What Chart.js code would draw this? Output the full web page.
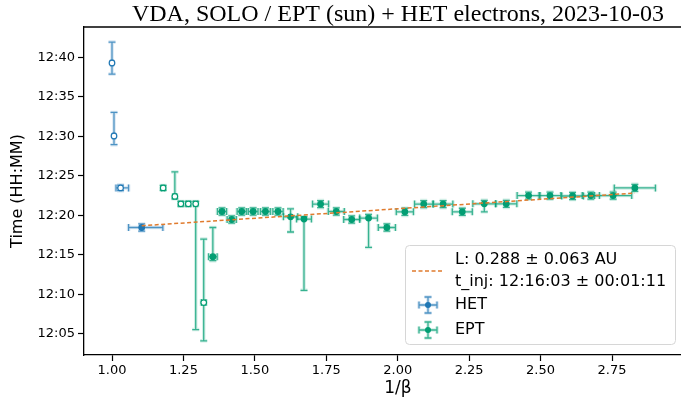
<!DOCTYPE html>
<html>
<head>
<meta charset="utf-8">
<script src="https://cdn.jsdelivr.net/npm/chart.js@4/dist/chart.umd.min.js"></script>
<style>
  html, body { margin: 0; padding: 0; overflow: hidden; background: #fff; }
</style>
</head>
<body>
<canvas id="chart" width="720" height="407"></canvas>
<script>
// y values are minutes after 12:00, x values are 1/beta
const hetX = [1.000, 1.007, 1.030, 1.104];
const hetY = [39.28, 30.05, 23.48, 18.47];
const hetXLo = [0.003, 0.003, 0.016, 0.046];
const hetXHi = [0.003, 0.003, 0.028, 0.074];
const hetYLo = [1.40, 1.10, 0.35, 0.45];
const hetYHi = [2.64, 2.98, 0.35, 0.45];
const hetHollow = [true, true, true, false];

const eptX = [1.179, 1.220, 1.241, 1.267, 1.293, 1.321, 1.353, 1.385, 1.419, 1.454, 1.494,
  1.537, 1.581, 1.625, 1.672, 1.730, 1.785, 1.839, 1.898, 1.962, 2.025, 2.091,
  2.159, 2.226, 2.303, 2.380, 2.458, 2.533, 2.612, 2.676, 2.754, 2.830];
const eptY = [23.48, 22.40, 21.46, 21.46, 21.46, 8.97, 14.77, 20.49, 19.48, 20.49, 20.49,
  20.49, 20.49, 19.82, 19.53, 21.43, 20.49, 19.48, 19.66, 18.47, 20.45, 21.43,
  21.43, 20.45, 21.46, 21.46, 22.50, 22.50, 22.45, 22.50, 22.50, 23.48];
const eptXErr = [0.006, 0.006, 0.007, 0.007, 0.007, 0.008, 0.015, 0.016, 0.016, 0.016, 0.017,
  0.017, 0.018, 0.025, 0.026, 0.028, 0.028, 0.028, 0.031, 0.030, 0.030, 0.032,
  0.034, 0.035, 0.040, 0.037, 0.040, 0.038, 0.038, 0.030, 0.065, 0.072];
const eptYLo = [0.30, 0.30, 0.30, 0.30, 15.90, 4.84, 0.50, 0.45, 0.45, 0.45, 0.45,
  0.45, 0.45, 1.92, 9.01, 0.45, 0.45, 0.45, 3.71, 0.45, 0.45, 0.45,
  0.45, 0.45, 1.01, 0.45, 0.45, 0.45, 0.45, 0.45, 0.45, 0.45];
const eptYHi = [0.30, 3.10, 0.30, 0.30, 0.30, 8.03, 3.70, 0.45, 0.45, 0.45, 0.45,
  0.45, 0.45, 1.01, 0.30, 0.45, 0.45, 0.45, 0.45, 0.45, 0.45, 0.45,
  0.45, 0.45, 0.45, 0.45, 0.45, 0.45, 0.45, 0.45, 0.45, 0.45];
const eptHollowCount = 6;

// fitted line end points
const fitX = [1.104, 2.830];
const fitY = [18.69, 22.83];

const xTicks = [1.00, 1.25, 1.50, 1.75, 2.00, 2.25, 2.50, 2.75];
const yTicks = [5, 10, 15, 20, 25, 30, 35, 40];

const hetColor = '#1f77b4';
const eptColor = '#029e73';
const fitColor = '#e07b2e';
const font = '"DejaVu Sans", sans-serif';

const hetSeries = {
  x: hetX, y: hetY, color: hetColor,
  xLo: hetXLo, xHi: hetXHi, yLo: hetYLo, yHi: hetYHi
};
const eptSeries = {
  x: eptX, y: eptY, color: eptColor,
  xLo: eptXErr, xHi: eptXErr, yLo: eptYLo, yHi: eptYHi
};

function rgba(hex, a) {
  const n = parseInt(hex.slice(1), 16);
  return `rgba(${n >> 16},${(n >> 8) & 255},${n & 255},${a})`;
}

function drawErr(ctx, px, py, x0, x1, y0, y1, color) {
  const cap = 3.5;
  const pass = (w, c) => {
    ctx.strokeStyle = c;
    ctx.lineWidth = w;
    ctx.beginPath();
    ctx.moveTo(x0, py); ctx.lineTo(x1, py);
    ctx.moveTo(x0, py - cap); ctx.lineTo(x0, py + cap);
    ctx.moveTo(x1, py - cap); ctx.lineTo(x1, py + cap);
    ctx.moveTo(px, y0); ctx.lineTo(px, y1);
    ctx.moveTo(px - cap, y0); ctx.lineTo(px + cap, y0);
    ctx.moveTo(px - cap, y1); ctx.lineTo(px + cap, y1);
    ctx.stroke();
  };
  pass(3.5, rgba(color, 0.18));
  pass(1.3, rgba(color, 0.75));
}

const errorBars = {
  id: 'errorBars',
  beforeDatasetsDraw(chart) {
    const { ctx, chartArea, scales: { x, y } } = chart;
    ctx.save();
    ctx.beginPath();
    ctx.rect(chartArea.left, chartArea.top, chartArea.right - chartArea.left, chartArea.bottom - chartArea.top);
    ctx.clip();
    [hetSeries, eptSeries].forEach(s => {
      s.x.forEach((xv, i) => {
        const yv = s.y[i];
        drawErr(ctx,
          x.getPixelForValue(xv), y.getPixelForValue(yv),
          x.getPixelForValue(xv - s.xLo[i]), x.getPixelForValue(xv + s.xHi[i]),
          y.getPixelForValue(yv + s.yHi[i]), y.getPixelForValue(yv - s.yLo[i]),
          s.color);
      });
    });
    ctx.restore();
  },
  afterDraw(chart) {
    const { ctx, chartArea } = chart;
    ctx.save();
    // top spine
    ctx.strokeStyle = '#000';
    ctx.lineWidth = 1.3;
    ctx.beginPath();
    ctx.moveTo(chartArea.left, chartArea.top);
    ctx.lineTo(chartArea.right, chartArea.top);
    ctx.stroke();

    // legend box
    const bx = 405, by = 245, bw = 270, bh = 99;
    ctx.beginPath();
    ctx.roundRect(bx + 0.5, by + 0.5, bw, bh, 4);
    ctx.fillStyle = 'rgba(255,255,255,0.85)';
    ctx.fill();
    ctx.strokeStyle = '#d6d6d6';
    ctx.lineWidth = 1;
    ctx.stroke();

    ctx.strokeStyle = fitColor;
    ctx.lineWidth = 1.4;
    ctx.setLineDash([4, 2.5]);
    ctx.beginPath();
    ctx.moveTo(412, 271);
    ctx.lineTo(443, 271);
    ctx.stroke();
    ctx.setLineDash([]);

    ctx.fillStyle = '#000';
    ctx.font = '16px ' + font;
    ctx.textBaseline = 'middle';
    ctx.textAlign = 'left';
    ctx.fillText('L: 0.288 \u00b1 0.063 AU', 455, 260);
    ctx.fillText('t_inj: 12:16:03 \u00b1 00:01:11', 455, 282);
    ctx.fillText('HET', 455, 305);
    ctx.fillText('EPT', 455, 330);

    [[hetColor, 305], [eptColor, 330]].forEach(([c, ly]) => {
      drawErr(ctx, 428, ly, 419, 437, ly - 8, ly + 8, c);
      ctx.fillStyle = c;
      ctx.beginPath();
      ctx.arc(428, ly, 3, 0, Math.PI * 2);
      ctx.fill();
    });
    ctx.restore();
  }
};

const hetPoints = hetX.map((v, i) => ({ x: v, y: hetY[i] }));
const eptPoints = eptX.map((v, i) => ({ x: v, y: eptY[i] }));
const fitPoints = fitX.map((v, i) => ({ x: v, y: fitY[i] }));

new Chart(document.getElementById('chart'), {
  type: 'scatter',
  data: {
    datasets: [
      {
        type: 'line',
        label: 'fit',
        data: fitPoints,
        borderColor: fitColor,
        borderWidth: 1.5,
        borderDash: [4, 2.5],
        pointRadius: 0,
        fill: false,
        order: 0
      },
      {
        label: 'HET',
        data: hetPoints,
        pointRadius: 2.8,
        pointBorderWidth: 1.2,
        pointBorderColor: hetColor,
        pointBackgroundColor: hetHollow.map(h => h ? '#fff' : hetColor),
        order: 1
      },
      {
        label: 'EPT',
        data: eptPoints,
        pointRadius: 2.8,
        pointBorderWidth: 1.2,
        pointBorderColor: eptColor,
        pointBackgroundColor: eptX.map((v, i) => i < eptHollowCount ? '#fff' : eptColor),
        order: 2
      }
    ]
  },
  options: {
    responsive: false,
    animation: false,
    layout: { padding: { left: 0, right: 8, top: 0, bottom: 0 } },
    plugins: {
      legend: { display: false },
      tooltip: { enabled: false },
      title: {
        display: true,
        fullSize: false,
        text: 'VDA, SOLO / EPT (sun) + HET electrons, 2023-10-03',
        color: '#000',
        font: { family: '"Liberation Serif", serif', size: 24, weight: 'normal', lineHeight: 1 },
        padding: { top: 3, bottom: 0 }
      }
    },
    scales: {
      x: {
        type: 'linear',
        min: 0.902,
        max: 3.10,
        afterFit: s => { s.height = 52; },
        afterBuildTicks: s => { s.ticks = xTicks.map(v => ({ value: v })); },
        ticks: {
          color: '#000',
          font: { family: font, size: 13 },
          padding: 2,
          maxRotation: 0,
          callback: v => Number(v).toFixed(2)
        },
        grid: { display: true, drawOnChartArea: false, tickLength: 6, tickColor: '#000', tickWidth: 1.2 },
        border: { display: true, color: '#000', width: 1.3 },
        title: {
          display: true,
          text: '1/\u03b2',
          color: '#000',
          font: { family: font, size: 17 },
          padding: { top: 0, bottom: 8 }
        }
      },
      y: {
        type: 'linear',
        min: 2.34,
        max: 43.83,
        afterFit: s => { s.width = 84; },
        afterBuildTicks: s => { s.ticks = yTicks.map(v => ({ value: v })); },
        ticks: {
          color: '#000',
          font: { family: font, size: 13 },
          padding: 3,
          callback: v => '12:' + String(v).padStart(2, '0')
        },
        grid: { display: true, drawOnChartArea: false, tickLength: 6, tickColor: '#000', tickWidth: 1.2 },
        border: { display: true, color: '#000', width: 1.3 },
        title: {
          display: true,
          text: 'Time (HH:MM)',
          color: '#000',
          font: { family: font, size: 16 },
          padding: { top: 8, bottom: 0 }
        }
      }
    }
  },
  plugins: [errorBars]
});
</script>
</body>
</html>
